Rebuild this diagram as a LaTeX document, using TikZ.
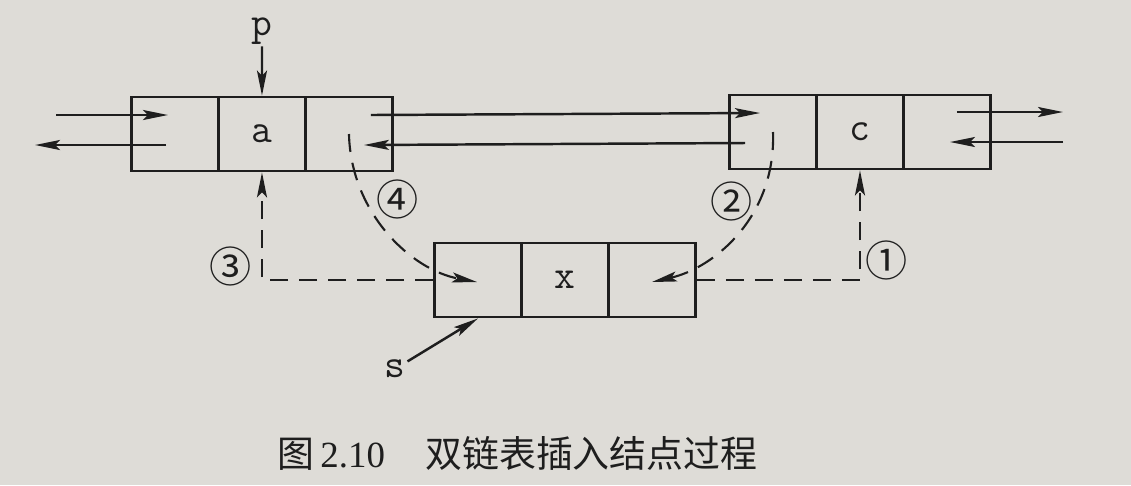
\documentclass[tikz,border=0pt]{standalone}
\usepackage{fontspec}
\newfontfamily\cjk{Noto Sans CJK SC}
\newfontfamily\serif{Liberation Serif}
\usepackage{tikz}
\usetikzlibrary{arrows.meta}
\usetikzlibrary{positioning}
\usetikzlibrary{calc}
\definecolor{paper}{RGB}{222,220,215}
\definecolor{ink}{RGB}{30,30,30}
\tikzset{>={Stealth[length=0.5cm,width=0.2cm,inset=0.1cm]}}

\begin{document}
\begin{tikzpicture}[x=0.02cm, y=-0.02cm]
                \tikzstyle{every node}=[node distance=1.74cm, text=ink]
                \tikzstyle{cell}=[rectangle, draw=ink, line width=1.6pt, minimum width=1.74cm,
                        minimum height=1.48cm, font=\ttfamily\fontsize{23}{23}\selectfont]
                \tikzstyle{link}=[draw=ink, line width=1.4pt]
                \tikzstyle{ptr}=[draw=ink, line width=1.2pt, dash pattern=on 0.36cm off 0.22cm]
                \tikzstyle{lbl}=[font=\ttfamily\fontsize{23}{23}\selectfont, inner sep=1pt]
                \tikzstyle{circnum}=[font=\cjk\fontsize{24}{24}\selectfont, inner sep=0pt]

                \fill[paper] (0,0) rectangle (1131,485);
                \useasboundingbox (0,0) rectangle (1131,485);

                % node a
                \node[cell] (al) at (175,134) {};
                \node[cell] (adata) [right of = al] {a};
                \node[cell] (ar) [right of = adata] {};

                % node c
                \node[cell] (cl) at (773,132) {};
                \node[cell] (cdata) [right of = cl] {c};
                \node[cell] (cr) [right of = cdata] {};

                % new node x
                \node[cell] (xl) at (478,280) {};
                \node[cell] (xdata) [right of = xl] {x};
                \node[cell] (xr) [right of = xdata] {};

                \coordinate (lin) at (56,115);
                \coordinate (lout) at (35,145);
                \coordinate (rout) at (1063,112);
                \coordinate (rin) at (1063,142);

                \draw[link, ->] (lin) -- ($(al.center)+(-7,-19)$);
                \draw[link, ->] ($(al.center)+(-9,11)$) -- (lout);
                \draw[link, ->] ($(ar.center)+(22,-19)$) -- ($(cl.center)+(-13,-19)$);
                \draw[link, ->] ($(cl.center)+(-28,11)$) -- ($(ar.center)+(15,11)$);
                \draw[link, ->] ($(cr.center)+(10,-20)$) -- (rout);
                \draw[link, ->] (rin) -- ($(cr.center)+(3,10)$);

                \node[lbl] (p) at (262,31) {p};
                \draw[link, ->] (p) -- (adata.north);
                \node[lbl] (s) at (395,369) {s};
                \draw[link, ->] (s) -- (xl.south);

                % steps 1-4
                \draw[ptr, ->] (xr.east) -| (cdata.south);
                \draw[ptr, ->] (cl.center) .. controls +(3,85) and +(62,-14) .. ($(xr.center)+(0,2)$);
                \draw[ptr, ->] (xl.west) -| (adata.south);
                \draw[ptr, ->] (ar.center) .. controls +(2,80) and +(-65,-12) .. ($(xl.center)+(-1,2)$);

                \node[circnum] (n1) at (887,260) {①};
                \node[circnum] (n2) at (732,201) {②};
                \node[circnum] (n3) at (231,266) {③};
                \node[circnum] (n4) at (398,199) {④};

                \node[anchor=west, inner sep=0pt, font=\cjk\fontsize{21}{21}\selectfont] (cap) at (277,453)
                        {图\hspace{3.5pt}{\serif 2.10}\hspace{23pt}双链表插入结点过程};
\end{tikzpicture}
\end{document}
